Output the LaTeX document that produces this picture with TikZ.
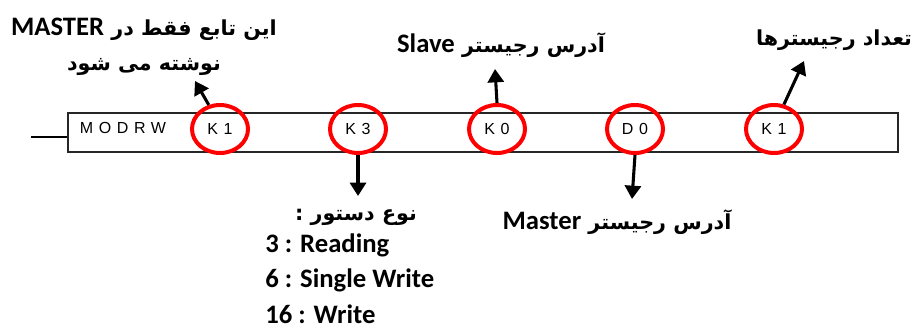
\documentclass[tikz,border=0pt]{standalone}
\usepackage{fontspec}
\usetikzlibrary{shapes.geometric,arrows.meta}
\setmainfont{Carlito}
\newfontfamily\farsi[Script=Arabic]{DejaVu Sans}
\newfontfamily\boxfont[LetterSpace=35]{Liberation Sans}
\newcommand\lat[1]{{\rmfamily\bfseries\fontsize{20}{22}\selectfont\beginL #1\endL}}
\TeXXeTstate=1

\begin{document}
\begin{tikzpicture}[x=0.75pt,y=-0.75pt,
  ring/.style={draw=red, line width=3pt, ellipse, minimum width=42pt, minimum height=36pt, inner sep=0pt, font=\boxfont\fontsize{12}{12}\selectfont},
  pointer/.style={line width=2.3pt, -{Triangle[width=12pt,length=10pt]}},
  note/.style={font=\farsi\bfseries\fontsize{15.5}{26}\selectfont, align=center, inner sep=0pt},
  item/.style={font=\bfseries\fontsize{20}{22}\selectfont, anchor=west, inner sep=0pt}]
\useasboundingbox (0,0) rectangle (916,329);

% instruction box
\node (box) [draw=black!85, line width=1.1pt, minimum width=622.5pt, minimum height=29.25pt, inner sep=0pt] at (483,132.5) {};
\coordinate (lead) at (31,137);
\draw [line width=1.1pt] (lead) -- (lead -| box.west);
\node (name) [font=\boxfont\fontsize{12}{12}\selectfont] at (123,128) {MODRW};

% operands
\node (ka) [ring] at (220,129) {K1};
\node (kb) [ring] at (358,129) {K3};
\node (kc) [ring] at (497,129) {K0};
\node (dd) [ring] at (635,129) {D0};
\node (ke) [ring] at (774,129) {K1};

% notes
\node (fn) [note] at (144,47) {\beginR این تابع فقط در \lat{MASTER}\endR\\ \beginR نوشته می شود\endR};
\node (slv) [note] at (501,45) {\beginR آدرس رجیستر \lat{Slave}\endR};
\node (cnt) [note] at (834,40) {\beginR تعداد رجیسترها\endR};
\node (cmd) [note] at (356,217) {\beginR نوع دستور :\endR};
\node (mst) [note] at (617,222) {\beginR آدرس رجیستر \lat{Master}\endR};
\node (r3) [item] at (265,245) {3 : Reading};
\node (r6) [item] at (265,280) {6 : Single Write};
\node (r16) [item] at (265,314) {16 : Write};

% arrows
\coordinate (fntip) at (195,81);
\coordinate (slvtip) at (495,69);
\coordinate (cnttip) at (804,61);
\coordinate (cmdtip) at (358,196);
\coordinate (msttip) at (632,199);
\draw [pointer] (ka.115) -- (fntip);
\draw [pointer] (kc.north) -- (slvtip);
\draw [pointer] (ke.68) -- (cnttip);
\draw [pointer] (kb.south) -- (cmdtip);
\draw [pointer] (dd.south) -- (msttip);
\end{tikzpicture}
\end{document}
